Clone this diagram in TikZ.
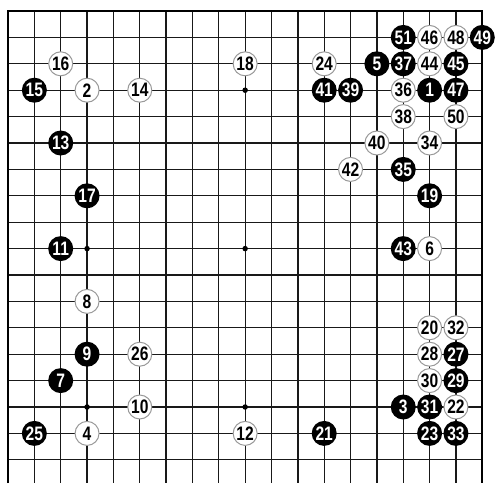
\documentclass[tikz,border=0pt]{standalone}
\usepackage{fontspec}
\newfontfamily\stonefont[FakeStretch=0.8]{Liberation Sans}

\begin{document}
\begin{tikzpicture}[
    x=26.35pt, y=-26.4pt,
    grid_line/.style={line width=1.3pt, black!90},
    edge_line/.style={line width=2.2pt, black},
    black_stone/.style={circle, fill=black, inner sep=0pt, minimum size=25pt, text=white, font=\stonefont\bfseries\fontsize{19.5}{19.5}\selectfont},
    white_stone/.style={circle, fill=white, draw=black!40, line width=1pt, inner sep=0pt, minimum size=24pt, text=black, font=\stonefont\bfseries\fontsize{19.5}{19.5}\selectfont},
    star_point/.style={circle, fill=black, inner sep=0pt, minimum size=5.5pt}
]
    \useasboundingbox (0.696,0.583) rectangle (19.482,18.879);

    % Board lines
    \foreach \c in {2,...,18} \draw[grid_line] (\c,1) -- (\c,18.879);
    \foreach \r in {2,...,18} \draw[grid_line] (1,\r) -- (19,\r);
    \draw[edge_line] (1,18.879) -- (1,1) -- (19,1) -- (19,18.879);

    % Star points
    \foreach \c/\r [count=\i] in {4/4,10/4,16/4,4/10,10/10,16/10,4/16,10/16,16/16}
        \node[star_point] (star\i) at (\c,\r) {};

    % Black stones
    \foreach \c/\r/\n in {17/4/1, 16/16/3, 15/3/5, 3/15/7, 4/14/9, 3/10/11, 3/6/13,
        2/4/15, 4/8/17, 17/8/19, 13/17/21, 17/17/23, 2/17/25, 18/14/27, 18/15/29,
        17/16/31, 18/17/33, 16/7/35, 16/3/37, 14/4/39, 13/4/41, 16/10/43, 18/3/45,
        18/4/47, 19/2/49, 16/2/51}
        \node[black_stone] (m\n) at (\c,\r) {\n};

    % White stones
    \foreach \c/\r/\n in {4/4/2, 4/17/4, 17/10/6, 4/12/8, 6/16/10, 10/17/12, 6/4/14,
        3/3/16, 10/3/18, 17/13/20, 18/16/22, 13/3/24, 6/14/26, 17/14/28, 17/15/30,
        18/13/32, 17/6/34, 16/4/36, 16/5/38, 15/6/40, 14/7/42, 17/3/44, 17/2/46,
        18/2/48, 18/5/50}
        \node[white_stone] (m\n) at (\c,\r) {\n};
\end{tikzpicture}
\end{document}
